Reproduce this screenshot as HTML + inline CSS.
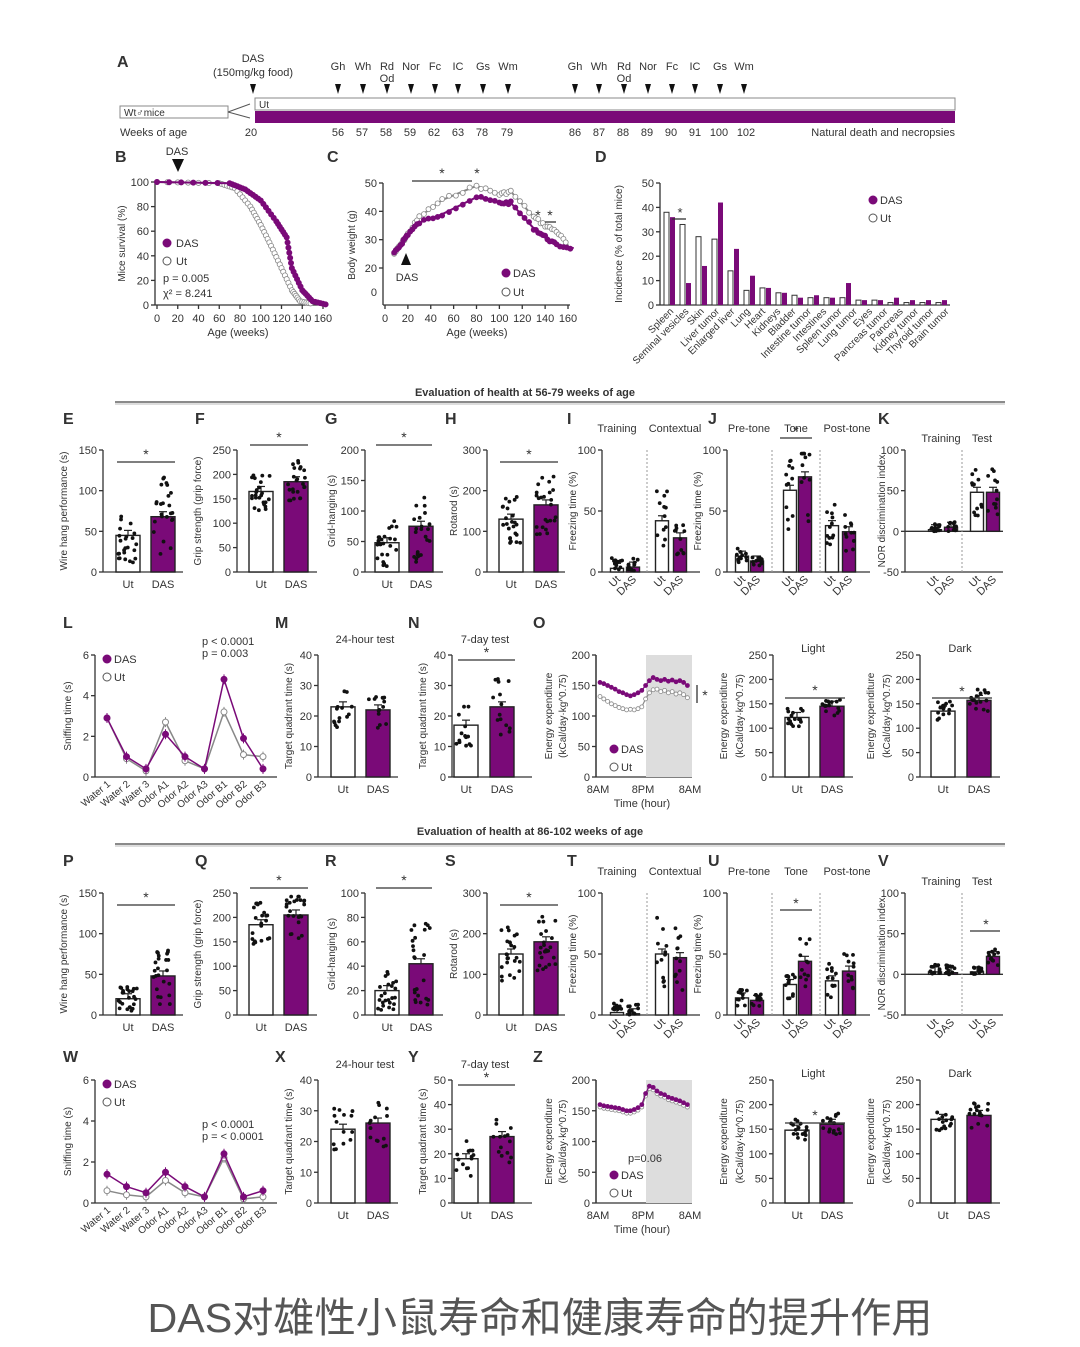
<!DOCTYPE html>
<html><head><meta charset="utf-8"><style>
html,body{margin:0;padding:0;background:#fff;width:1080px;height:1347px;overflow:hidden}
svg{display:block}
text{font-family:"Liberation Sans",sans-serif;fill:#333}
.cap{font-family:"Liberation Sans","Noto Sans CJK SC",sans-serif;fill:#555}
</style></head><body>
<svg id="s" width="1080" height="1347" viewBox="0 0 1080 1347" xmlns="http://www.w3.org/2000/svg">
<text class="cap" x="540" y="1332" font-size="41" text-anchor="middle" textLength="785" lengthAdjust="spacingAndGlyphs">DAS对雄性小鼠寿命和健康寿命的提升作用</text>
</svg>
<script>
const S=document.getElementById('s'),P='#7a0a78',NS='http://www.w3.org/2000/svg';
function el(t,a,txt){const e=document.createElementNS(NS,t);for(const k in a)e.setAttribute(k,a[k]);if(txt!==undefined)e.textContent=txt;S.appendChild(e);return e}
function T(x,y,s,fs,anc,extra){const a=Object.assign({x,y,'font-size':fs||11,'text-anchor':anc||'middle'},extra||{});return el('text',a,s)}
function L(x1,y1,x2,y2,c,w,d){const a={x1,y1,x2,y2,stroke:c||'#333','stroke-width':w||1.3};if(d)a['stroke-dasharray']=d;return el('line',a)}
function letter(s,x,y){T(x,y,s,16,'start',{'font-weight':'bold',fill:'#222'})}
let seed=7;function rnd(){seed=(seed*9301+49297)%233280;return seed/233280}
function ylab(s,x,y){T(x,y,s,10,'middle',{transform:`rotate(-90 ${x} ${y})`})}
function axis(o){const Y=v=>o.bot-(v-o.min)/(o.max-o.min)*(o.bot-o.top);
 L(o.x,o.top,o.x,o.bot);
 o.ticks.forEach(t=>{L(o.x-4,Y(t),o.x,Y(t));T(o.x-6,Y(t)+4,String(t),11,'end')});
 L(o.x,o.min<0?Y(0):o.bot,o.x+o.w,o.min<0?Y(0):o.bot);
 if(o.min<0)L(o.x,o.bot,o.x+o.w,o.bot);
 if(o.ylabel)ylab(o.ylabel,o.x-(o.yoff||30),(o.top+o.bot)/2);
 return Y}
function bars(o){const Y=axis(o);const bw=o.bw||24;
 o.bars.forEach((b,i)=>{const y0=Y(0),y1=Y(b[1]);const top=Math.min(y0,y1),h=Math.abs(y0-y1);
  el('rect',{x:b[0]-bw/2,y:top,width:bw,height:h,fill:i%2?P:'#fff',stroke:'#222','stroke-width':1.4});
  L(b[0],y1,b[0],y1-(o.err||5),'#222',1.2);L(b[0]-4,y1-(o.err||5),b[0]+4,y1-(o.err||5),'#222',1.2);
  const n=o.n||18;for(let k=0;k<n;k++){let v=b[1]*(1+(rnd()-0.5)*(o.sp||1.1));if(b[1]<8)v=rnd()*12;
   v=Math.max(o.min,Math.min(o.max*0.97,v));el('circle',{cx:b[0]+(rnd()-0.5)*bw*0.8,cy:Y(v),r:1.9,fill:'#111'})}
 });
 if(o.xl){o.xl.forEach((s,i)=>T(o.bars[i][0],o.bot+16,s,11))}
 if(o.rx){o.bars.forEach((b,i)=>{const x=b[0]+4,y=o.bot+8;T(x,y,i%2?'DAS':'Ut',11,'end',{transform:`rotate(-45 ${x} ${y})`})})}
 if(o.star){const [a,c,y]=o.star;L(a,y,c,y);T((a+c)/2,y-3,'*',14)}
 (o.div||[]).forEach(x=>L(x,o.top,x,o.bot,'#999',1,'2,2'));
 (o.heads||[]).forEach(h=>T(h[0],h[1],h[2],11));
 return Y}
// ---- Panel A ----
letter('A',117,67);
T(253,62,'DAS',11);T(253,76,'(150mg/kg food)',11);
const ax=[[253,''],[338,'Gh'],[363,'Wh'],[387,'Rd'],[411,'Nor'],[435,'Fc'],[458,'IC'],[483,'Gs'],[508,'Wm'],[575,'Gh'],[599,'Wh'],[624,'Rd'],[648,'Nor'],[672,'Fc'],[695,'IC'],[720,'Gs'],[744,'Wm']];
ax.forEach(a=>{if(a[1])T(a[0],70,a[1],11);el('polygon',{points:`${a[0]-3},84 ${a[0]+3},84 ${a[0]},94`,fill:'#111'})});
T(387,82,'Od',11);T(624,82,'Od',11);
el('rect',{x:255,y:98,width:700,height:12,fill:'#fff',stroke:'#888'});
el('rect',{x:255,y:111,width:700,height:12,fill:P});
T(259,108,'Ut',10,'start');
el('rect',{x:120,y:106,width:108,height:12,fill:'#fff',stroke:'#888'});T(124,116,'Wt♂mice',10,'start');
L(228,112,250,104,'#555',1);L(228,112,250,118,'#555',1);
T(120,136,'Weeks of age',11,'start');
[[251,'20'],[338,'56'],[362,'57'],[386,'58'],[410,'59'],[434,'62'],[458,'63'],[482,'78'],[507,'79'],[575,'86'],[599,'87'],[623,'88'],[647,'89'],[671,'90'],[695,'91'],[719,'100'],[746,'102']].forEach(a=>T(a[0],136,a[1],11));
T(955,136,'Natural death and necropsies',11,'end');
// ---- B ----
letter('B',115,162);T(177,155,'DAS',11);el('polygon',{points:'172,159 184,159 178,172',fill:'#111'});
{const o={x:155,top:182,bot:305,min:0,max:100,ticks:[0,20,40,60,80,100],w:170,ylabel:'Mice survival (%)',yoff:30};const Y=axis(o);
 const X=v=>157+v/160*166;for(let v=0;v<=160;v+=20){L(X(v),305,X(v),309);T(X(v),322,String(v),11)}
 T(238,336,'Age (weeks)',11);
 const ut=[[0,100],[60,99],[75,95],[90,80],[100,65],[110,48],[120,30],[130,12],[138,3],[150,1]],da=[[0,100],[70,99],[85,94],[100,85],[115,68],[125,55],[130,30],[140,12],[150,3],[165,0]];
 [[ut,'#888','#fff'],[da,P,P]].forEach(([d,c,f])=>{el('polyline',{points:d.map(p=>X(p[0])+','+Y(p[1])).join(' '),fill:'none',stroke:c,'stroke-width':2});
  for(let i=0;i<d.length-1;i++)for(let k=0;k<6;k++){const t=k/6;const v=d[i][0]+(d[i+1][0]-d[i][0])*t,y=d[i][1]+(d[i+1][1]-d[i][1])*t;el('circle',{cx:X(v),cy:Y(y),r:2.6,fill:f,stroke:c,'stroke-width':0.8})}});
 el('circle',{cx:167,cy:243,r:4.5,fill:P});T(176,247,'DAS',11,'start');el('circle',{cx:167,cy:261,r:4,fill:'#fff',stroke:'#555'});T(176,265,'Ut',11,'start');
 T(163,282,'p = 0.005',11,'start');T(163,297,'χ² = 8.241',11,'start');}
// ---- C ----
letter('C',327,162);
{L(383,183,383,305);L(383,305,570,305);
 const Y=v=>183+(50-v)/30*85;[20,30,40,50].forEach(t=>{L(379,Y(t),383,Y(t));T(377,Y(t)+4,String(t),11,'end')});T(377,296,'0',11,'end');
 ylab('Body weight (g)',355,245);
 const X=v=>385+v/160*183;for(let v=0;v<=160;v+=20){L(X(v),305,X(v),309);T(X(v),322,String(v),11)}T(477,336,'Age (weeks)',11);
 const ut=[[8,25],[15,29],[20,32],[30,38],[50,44],[80,49],[100,46],[110,47],[130,38],[140,35],[150,33],[160,28]];
 const da=[[8,25],[15,29],[20,32],[30,36],[50,39],[80,45],[100,43],[110,43],[130,34],[140,31],[150,28],[165,27]];
 [[ut,'#888','#fff'],[da,P,P]].forEach(([d,c,f])=>{el('polyline',{points:d.map(p=>X(p[0])+','+Y(p[1])).join(' '),fill:'none',stroke:c,'stroke-width':2});
  for(let i=0;i<d.length-1;i++)for(let k=0;k<5;k++){const t=k/5;el('circle',{cx:X(d[i][0]+(d[i+1][0]-d[i][0])*t),cy:Y(d[i][1]+(d[i+1][1]-d[i][1])*t)+(rnd()-0.5)*3,r:2.5,fill:f,stroke:c,'stroke-width':0.8})}});
 L(412,181,472,181);T(442,178,'*',14);T(477,178,'*',14);T(538,220,'*',14);T(550,220,'*',14);L(545,222,556,222);
 el('polygon',{points:'401,265 411,265 406,253',fill:'#111'});T(407,281,'DAS',11);
 el('circle',{cx:506,cy:273,r:4.5,fill:P});T(513,277,'DAS',11,'start');el('circle',{cx:506,cy:292,r:4,fill:'#fff',stroke:'#555'});T(513,296,'Ut',11,'start');}
// ---- D ----
letter('D',595,162);
{const o={x:660,top:183,bot:305,min:0,max:50,ticks:[0,10,20,30,40,50],w:290,ylabel:'Incidence  (% of total mice)',yoff:38};const Y=axis(o);
 const v=[[38,36],[33,9],[28,16],[27,42],[14,23],[6,12],[7,7],[5,5],[4,3],[3,4],[3,3],[3,9],[2,2],[2,2],[1,3],[1,2],[1,2],[1,2]];
 const lbls=['Spleen','Seminal vesicles','Skin','Liver tumor','Enlarged liver','Lung','Heart','Kidneys','Bladder','Intestine tumor','Intestines','Spleen tumor','Lung tumor','Eyes','Pancreas tumor','Pancreas','Kidney tumor','Thyroid tumor','Brain tumor'];
 v.forEach((p,i)=>{const x=664+i*16;el('rect',{x,y:Y(p[0]),width:5,height:305-Y(p[0]),fill:'#fff',stroke:'#333','stroke-width':1});el('rect',{x:x+6,y:Y(p[1]),width:5,height:305-Y(p[1]),fill:P})});
 lbls.forEach((s,i)=>{const x=674+i*15.3,y=312;T(x,y,s,10,'end',{transform:`rotate(-45 ${x} ${y})`})});
 L(672,219,686,219);T(680,217,'*',13);
 el('circle',{cx:873,cy:200,r:4.5,fill:P});T(880,204,'DAS',11,'start');el('circle',{cx:873,cy:218,r:4,fill:'#fff',stroke:'#555'});T(880,222,'Ut',11,'start');}
// separators
T(525,396,'Evaluation of health at 56-79 weeks of age',11,'middle',{'font-weight':'bold'});L(115,402,1005,402,'#444',1.2);L(115,404,1005,404,'#bbb',1);
T(530,835,'Evaluation of health at 86-102 weeks of age',11,'middle',{'font-weight':'bold'});L(115,844,1005,844,'#444',1.2);L(115,846,1005,846,'#bbb',1);
// ---- bar rows ----
function row(top,bot,cfg,ly){
 const [E,F,G,H,I,J,K]=cfg.letters;
 letter(E,63,ly);letter(F,195,ly);letter(G,325,ly);letter(H,445,ly);letter(I,567,ly);letter(J,708,ly);letter(K,878,ly);
 bars({x:103,top,bot,min:0,max:150,ticks:[0,50,100,150],w:80,ylabel:'Wire hang performance (s)',yoff:36,bars:[[128,cfg.v[0]],[163,cfg.v[1]]],xl:['Ut','DAS'],star:[117,175,top+12],n:24,sp:1.5});
 bars({x:237,top,bot,min:0,max:250,ticks:[0,50,100,150,200,250],w:80,ylabel:'Grip strength (grip force)',yoff:36,bars:[[261,cfg.v[2]],[296,cfg.v[3]]],xl:['Ut','DAS'],star:[250,308,top-5],n:24,sp:0.5});
 bars({x:365,top,bot,min:0,max:cfg.gm,ticks:cfg.gt,w:78,ylabel:'Grid-hanging (s)',yoff:30,bars:[[387,cfg.v[4]],[421,cfg.v[5]]],xl:['Ut','DAS'],star:[376,432,top-5],n:24,sp:1.6});
 bars({x:487,top,bot,min:0,max:300,ticks:[0,100,200,300],w:78,ylabel:'Rotarod (s)',yoff:30,bars:[[511,cfg.v[6]],[546,cfg.v[7]]],xl:['Ut','DAS'],star:[500,558,top+12],n:24,sp:0.9});
 bars({x:602,top,bot,min:0,max:100,ticks:[0,50,100],w:98,ylabel:'Freezing time (%)',yoff:26,bw:13,bars:[[617,cfg.v[8]],[633,cfg.v[9]],[662,cfg.v[10]],[680,cfg.v[11]]],rx:1,div:[647],heads:[[617,top-18,'Training'],[675,top-18,'Contextual']],n:12,sp:1.2});
 bars({x:727,top,bot,min:0,max:100,ticks:[0,50,100],w:143,ylabel:'Freezing time (%)',yoff:26,bw:13,bars:[[742,cfg.v[12]],[757,cfg.v[13]],[790,cfg.v[14]],[805,cfg.v[15]],[832,cfg.v[16]],[849,cfg.v[17]]],rx:1,div:[772,820],heads:[[749,top-18,'Pre-tone'],[796,top-18,'Tone'],[847,top-18,'Post-tone']],n:12,sp:1.0});
 L(...cfg.jstar);T((cfg.jstar[0]+cfg.jstar[2])/2,cfg.jstar[1]-2,'*',14);
 bars({x:905,top,bot,min:-50,max:100,ticks:[-50,0,50,100],w:98,ylabel:'NOR discrimination index',yoff:20,bw:13,bars:[[935,cfg.v[18]],[951,cfg.v[19]],[977,cfg.v[20]],[993,cfg.v[21]]],rx:1,div:[962],heads:[[941,top-8,'Training'],[982,top-8,'Test']],n:12,sp:1.2});
 if(cfg.vstar){L(970,top+38,1000,top+38);T(986,top+36,'*',14)}
}
row(450,572,{letters:['E','F','G','H','I','J','K'],gm:200,gt:[0,50,100,150,200],v:[45,68,165,185,48,75,130,165,3,4,42,28,13,9,67,78,38,33,2,5,48,48],jstar:[780,438,812,438]},424);
row(893,1015,{letters:['P','Q','R','S','T','U','V'],gm:100,gt:[0,20,40,60,80,100],v:[20,48,185,205,20,42,150,180,2,1,50,47,14,12,25,44,28,36,3,2,3,22],jstar:[780,910,812,910],vstar:1},866);
// ---- line rows L / W ----
function lineRow(top,bot,ly,L1,L2,L3,L4,da,ut,pp,m,n,ym,yt,ld,ed,eu,pz){
 letter(L1,63,ly);letter(L2,275,ly);letter(L3,408,ly);letter(L4,533,ly);
 const Y=axis({x:95,top,bot,min:0,max:6,ticks:[0,2,4,6],w:182,ylabel:'Sniffing time (s)',yoff:24});
 const X=i=>107+i*19.5;const names=['Water 1','Water 2','Water 3','Odor A1','Odor A2','Odor A3','Odor B1','Odor B2','Odor B3'];
 [[ut,'#888','#fff'],[da,P,P]].forEach(([d,c,f])=>{el('polyline',{points:d.map((v,i)=>X(i)+','+Y(v)).join(' '),fill:'none',stroke:c,'stroke-width':1.5});d.forEach((v,i)=>{L(X(i),Y(v)-5,X(i),Y(v)+5,c,1);el('circle',{cx:X(i),cy:Y(v),r:3,fill:f,stroke:c})})});
 names.forEach((s,i)=>{const x=X(i)+4,y=bot+8;T(x,y,s,10,'end',{transform:`rotate(-40 ${x} ${y})`})});
 el('circle',{cx:107,cy:top+4,r:4.5,fill:P});T(114,top+8,'DAS',11,'start');el('circle',{cx:107,cy:top+22,r:4,fill:'#fff',stroke:'#555'});T(114,top+26,'Ut',11,'start');
 T(202,pp[0],'p < 0.0001',11,'start',{fill:P});T(202,pp[0]+12,'p = '+pp[1],11,'start');
 bars({x:318,top,bot,min:0,max:40,ticks:[0,10,20,30,40],w:80,ylabel:'Target quadrant time (s)',yoff:26,bars:[[343,m[0]],[378,m[1]]],xl:['Ut','DAS'],heads:[[365,top-12,'24-hour test']],n:14,sp:0.6});
 bars({x:452,top,bot,min:0,max:ym,ticks:yt,w:80,ylabel:'Target quadrant time (s)',yoff:26,bars:[[466,n[0]],[502,n[1]]],xl:['Ut','DAS'],star:[458,515,top+5],heads:[[485,top-12,'7-day test']],n:14,sp:0.8});
 const Ye=axis({x:596,top,bot,min:0,max:200,ticks:[0,50,100,150,200],w:96,ylabel:'Energy expenditure',yoff:44});
 ylab('(kCal/day·kg^0.75)',566,(top+bot)/2);
 el('rect',{x:646,y:top,width:46,height:bot-top,fill:'#ddd'});L(596,top,596,bot);
 const Xe=i=>600+i*3.8;
 [[eu,'#888','#fff'],[ed,P,P]].forEach(([d,c,fl])=>{const pts=d.map((v,i)=>[Xe(i),Ye(v)]);
  el('polyline',{points:pts.map(p=>p.join(',')).join(' '),fill:'none',stroke:c,'stroke-width':1.2});pts.forEach(p=>el('circle',{cx:p[0],cy:p[1],r:2,fill:fl,stroke:c,'stroke-width':0.8}))});
 T(598,bot+16,'8AM',11);T(643,bot+16,'8PM',11);T(690,bot+16,'8AM',11);T(642,bot+30,'Time (hour)',11);
 el('circle',{cx:614,cy:bot-28,r:4.5,fill:P});T(621,bot-24,'DAS',11,'start');el('circle',{cx:614,cy:bot-10,r:4,fill:'#fff',stroke:'#555'});T(621,bot-6,'Ut',11,'start');
 if(pz){T(628,top+82,'p=0.06',11,'start')}else{L(697,top+30,697,top+48);T(705,top+45,'*',14)}
 bars({x:773,top,bot,min:0,max:250,ticks:[0,50,100,150,200,250],w:80,ylabel:'Energy expenditure',yoff:46,bars:[[797,ld[0]],[832,ld[1]]],xl:['Ut','DAS'],star:[785,845,top+43],heads:[[813,top-3,'Light']],n:16,sp:0.3});
 ylab('(kCal/day·kg^0.75)',743,(top+bot)/2);
 bars({x:920,top,bot,min:0,max:250,ticks:[0,50,100,150,200,250],w:80,ylabel:'Energy expenditure',yoff:46,bars:[[943,ld[2]],[979,ld[3]]],xl:['Ut','DAS'],heads:[[960,top-3,'Dark']],n:16,sp:0.3});
 ylab('(kCal/day·kg^0.75)',890,(top+bot)/2);
 if(!pz){L(932,top+43,992,top+43);T(962,top+41,'*',14)}
}
const oD=[155,153,150,147,144,140,138,135,133,135,138,142,150,158,163,160,158,160,157,159,156,158,155,150];
const oU=[132,128,124,120,117,114,112,110,111,110,112,115,128,138,143,144,140,142,138,140,136,138,135,130];
const zD=[160,158,157,156,155,154,152,150,150,152,155,160,178,190,188,182,178,176,172,170,168,166,163,160];
const zU=zD.map(v=>v-4);
lineRow(655,777,628,'L','M','N','O',[2.9,1,0.4,2.1,1,0.4,4.8,1.9,0.4],[2.9,0.9,0.3,2.7,0.8,0.4,3.2,1.1,1.0],[645,'0.003'],[23,22],[17,23],40,[0,10,20,30,40],[122,145,135,157],oD,oU,0);
lineRow(1080,1203,1062,'W','X','Y','Z',[1.4,0.8,0.5,1.5,0.8,0.3,2.4,0.3,0.6],[0.6,0.4,0.3,1.1,0.5,0.3,2.2,0.2,0.3],[1128,'< 0.0001'],[24,26],[18,27],50,[0,10,20,30,40,50],[148,160,170,178],zD,zU,1);
</script>
</body></html>
